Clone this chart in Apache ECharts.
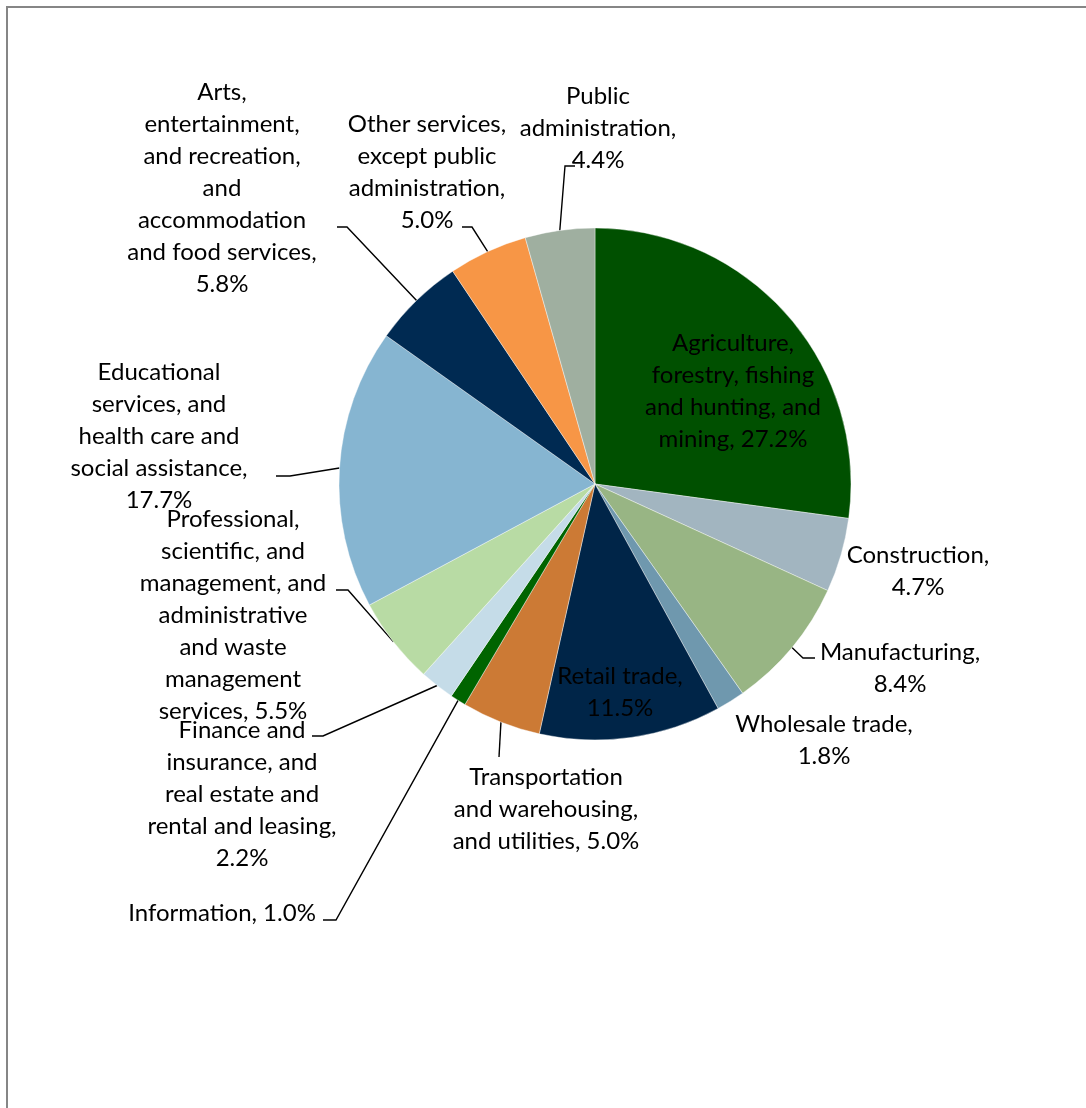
<!DOCTYPE html>
<html><head><meta charset="utf-8">
<script src="https://cdn.jsdelivr.net/npm/echarts@6/dist/echarts.min.js"></script>
<style>html,body{margin:0;padding:0;background:#fff;}#c{width:1086px;height:1108px;}</style>
</head><body><div id="c"></div>
<script>
// ---- data ----
const categories = [
  'Agriculture, forestry, fishing and hunting, and mining',
  'Construction',
  'Manufacturing',
  'Wholesale trade',
  'Retail trade',
  'Transportation and warehousing, and utilities',
  'Information',
  'Finance and insurance, and real estate and rental and leasing',
  'Professional, scientific, and management, and administrative and waste management services',
  'Educational services, and health care and social assistance',
  'Arts, entertainment, and recreation, and accommodation and food services',
  'Other services, except public administration',
  'Public administration'
];
const values = [27.2, 4.7, 8.4, 1.8, 11.5, 5.0, 1.0, 2.2, 5.5, 17.7, 5.8, 5.0, 4.4];
const labelTexts = [
  'Agriculture,\nforestry, fishing\nand hunting, and\nmining, {v}',
  'Construction,\n{v}',
  'Manufacturing,\n{v}',
  'Wholesale trade,\n{v}',
  'Retail trade,\n{v}',
  'Transportation\nand warehousing,\nand utilities, {v}',
  'Information, {v}',
  'Finance and\ninsurance, and\nreal estate and\nrental and leasing,\n{v}',
  'Professional,\nscientific, and\nmanagement, and\nadministrative\nand waste\nmanagement\nservices, {v}',
  'Educational\nservices, and\nhealth care and\nsocial assistance,\n{v}',
  'Arts,\nentertainment,\nand recreation,\nand\naccommodation\nand food services,\n{v}',
  'Other services,\nexcept public\nadministration,\n{v}',
  'Public\nadministration,\n{v}'
];
const colors = ['#005000', '#A2B5C0', '#98B584', '#6F98AE', '#002548', '#CC7A35', '#006400',
                '#C5DCE8', '#B8DBA4', '#86B5D1', '#002A52', '#F79646', '#9FAFA0'];

// ---- label placement (pixels): label centre and leader elbow/end ----
const labelPos = [
  [733, 391], [918, 571], [900, 668], [824, 740], [620, 692], [546, 809], [222, 913],
  [242, 794], [233, 615], [159, 436], [222, 188], [427, 172], [598, 128]
];
const leaders = [
  null, null,
  [[803, 658], [815, 658]],
  null, null,
  [[499, 757]],
  [[336, 920], [323, 920]],
  [[323, 736], [312, 736]],
  [[348, 590], [336, 590]],
  [[290, 476], [276, 476]],
  [[347, 227], [337, 227]],
  [[472, 227], [462, 227]],
  [[565, 166], [575, 166]]
];

const chart = echarts.init(document.getElementById('c'), null, {renderer: 'canvas'});
const FONT = 'Lato';
const data = categories.map((n, i) => ({
  name: n,
  value: values[i],
  itemStyle: {color: colors[i]},
  label: {formatter: () => labelTexts[i].replace('{v}', values[i].toFixed(1) + '%')},
  labelLine: {show: !!leaders[i]}
}));

chart.setOption({
  animation: false,
  graphic: [{
    type: 'rect', silent: true,
    shape: {x: 7, y: 7, width: 1100, height: 1120},
    style: {fill: 'none', stroke: '#868686', lineWidth: 2}
  }],
  series: [{
    type: 'pie',
    center: [595, 484],
    radius: 256,
    startAngle: 90,
    clockwise: true,
    avoidLabelOverlap: false,
    itemStyle: {borderColor: '#ffffff', borderWidth: 0.4},
    label: {
      show: true, position: 'outside', color: '#000',
      fontFamily: FONT, fontSize: 24, lineHeight: 32, align: 'center'
    },
    labelLine: {show: true, smooth: false, length: 10, length2: 10,
      lineStyle: {color: '#000', width: 1.4}},
    emphasis: {disabled: true},
    labelLayout: function (p) {
      const i = p.dataIndex;
      const res = {x: labelPos[i][0], y: labelPos[i][1], align: 'center', verticalAlign: 'middle'};
      if (leaders[i] && p.labelLinePoints && p.labelLinePoints.length) {
        res.labelLinePoints = [p.labelLinePoints[0]].concat(leaders[i]);
      }
      return res;
    },
    data: data
  }]
});
</script>
</body></html>
